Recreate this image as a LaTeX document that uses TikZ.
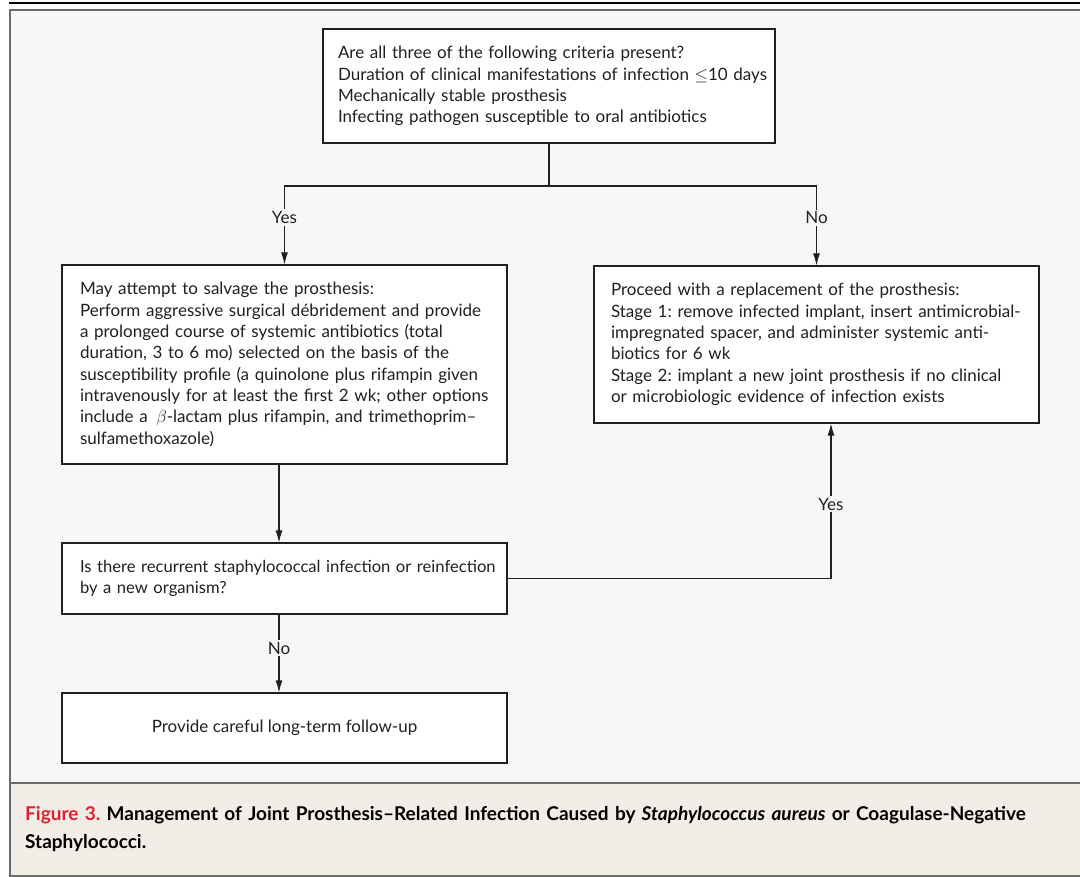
\documentclass[tikz,border=0pt]{standalone}
\usepackage{fontspec}
\setmainfont{Lato}
\usetikzlibrary{arrows.meta}
\definecolor{panelbg}{HTML}{F7F7F7}
\definecolor{capbg}{HTML}{F2EDE7}
\definecolor{framegray}{HTML}{6B6B6B}
\definecolor{ink}{HTML}{231F20}
\definecolor{nejmred}{HTML}{E4202C}
\newcommand{\Lx}[1]{\mbox{#1}}
\frenchspacing
\begin{document}
\begin{tikzpicture}[x=1pt,y=-1pt,
  box/.style={draw=ink, line width=1.1pt, fill=white, rectangle, align=left,
    font=\fontsize{17}{21.3}\selectfont\frenchspacing, text=ink, inner ysep=2pt},
  conn/.style={draw=ink, line width=1.1pt},
  arr/.style={conn, -{Latex[length=12pt,width=7pt]}},
  lab/.style={fill=panelbg, inner xsep=2pt, inner ysep=2pt, text=ink,
    font=\fontsize{17}{20}\selectfont}]
\useasboundingbox (0,0) rectangle (1080,877);
\clip (0,0) rectangle (1080,877);
% header rule and panels
\draw[line width=1.5pt, black] (9,3) -- (1085,3);
\draw[draw=framegray, line width=1.6pt, fill=panelbg] (10,10) rectangle (1095,783);
\draw[draw=framegray, line width=1.6pt, fill=capbg] (10,783) rectangle (1095,876);

% boxes
\node[box, minimum width=452pt, minimum height=114pt, inner xsep=15pt, text width=422pt] (top) at (549,86)
 {\Lx{Are all three of the following criteria present?}\\
  \Lx{Duration of clinical manifestations of infection $\leq$10 days}\\
  \Lx{Mechanically stable prosthesis}\\
  \Lx{Infecting pathogen susceptible to oral antibiotics}};

\node[box, minimum width=445pt, minimum height=199pt, inner xsep=18pt, text width=409pt] (salv) at (284.5,364.5)
 {\Lx{May attempt to salvage the prosthesis:}\\
  \Lx{Perform aggressive surgical débridement and provide}\\
  \Lx{a prolonged course of systemic antibiotics (total}\\
  \Lx{duration, 3 to 6 mo) selected on the basis of the}\\
  \Lx{susceptibility profile (a quinolone plus rifampin given}\\
  \Lx{intravenously for at least the first 2 wk; other options}\\
  \Lx{include a \,$\beta$-lactam plus rifampin, and trimethoprim–}\\
  \Lx{sulfamethoxazole)}};

\node[box, minimum width=445pt, minimum height=157pt, inner xsep=17pt, text width=411pt] (repl) at (816.5,344.5)
 {\Lx{Proceed with a replacement of the prosthesis:}\\
  \Lx{Stage 1: remove infected implant, insert antimicrobial-}\\
  \Lx{impregnated spacer, and administer systemic anti-}\\
  \Lx{biotics for 6 wk}\\
  \Lx{Stage 2: implant a new joint prosthesis if no clinical}\\
  \Lx{or microbiologic evidence of infection exists}};

\node[box, minimum width=445pt, minimum height=71pt, inner xsep=18pt, text width=409pt,
  font=\fontsize{16.6}{21.3}\selectfont\frenchspacing] (recur) at (284.5,578.5)
 {\Lx{Is there recurrent staphylococcal infection or reinfection}\\
  \Lx{by a new organism?}};

\node[box, minimum width=445pt, minimum height=70pt, align=center] (follow) at (284.5,728)
 {Provide careful long-term follow-up};

% connectors
\coordinate (split) at (549,186);
\draw[conn] (top.south) -- (split);
\draw[arr] (split) -| node[lab, pos=0.7] {Yes} (salv.north);
\draw[arr] (split) -| node[lab, pos=0.7] {No} (repl.north);
\draw[arr] ([xshift=-5.5pt]salv.south) -- ([xshift=-5.5pt]recur.north);
\draw[arr] ([xshift=-5.5pt]recur.south) -- node[lab, pos=0.43] {No} ([xshift=-5.5pt]follow.north);
\draw[arr] (recur.east) -| node[lab, pos=0.74] {Yes} ([xshift=14.5pt]repl.south);

% caption
\node[anchor=north west, inner sep=0pt, text width=1045pt, align=left, text=black,
  font=\bfseries\fontsize{19}{28}\selectfont\frenchspacing] (cap) at (25,806)
 {\textcolor{nejmred}{Figure 3.} Management of Joint Prosthesis–Related Infection Caused by \textit{Staphylococcus aureus} or Coagulase-Negative\\
  Staphylococci.};
\end{tikzpicture}
\end{document}
